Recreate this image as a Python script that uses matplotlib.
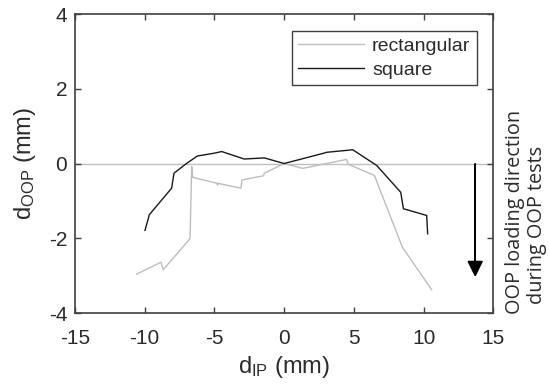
import numpy as np
import matplotlib
matplotlib.use("Agg")
import matplotlib.pyplot as plt

plt.rcParams['font.family'] = ['Liberation Sans', 'DejaVu Sans']
plt.rcParams['mathtext.fontset'] = 'custom'
plt.rcParams['mathtext.rm'] = 'Liberation Sans'
plt.rcParams['mathtext.it'] = 'Liberation Sans'
plt.rcParams['axes.unicode_minus'] = False

# In-plane vs out-of-plane displacement (mm)
rect_ip = [-10.58, -8.83, -8.67, -6.75, -6.63, -6.56, -4.80, -4.78, -4.76, -3.10, -3.02,
           -1.49, -1.42, 0.0, 1.33, 4.48, 4.60, 6.47, 8.48, 10.58]
rect_oop = [-2.96, -2.64, -2.84, -2.01, -0.08, -0.37, -0.53, -0.58, -0.53, -0.66, -0.44,
            -0.33, -0.26, 0.0, -0.13, 0.11, -0.02, -0.32, -2.24, -3.38]

sq_ip = [-9.98, -9.67, -8.07, -7.90, -7.04, -6.23, -4.96, -4.48, -2.86, -1.42, 0.0,
         2.88, 3.05, 4.72, 4.91, 6.63, 8.36, 8.55, 10.22, 10.29]
sq_oop = [-1.79, -1.37, -0.66, -0.26, -0.01, 0.20, 0.28, 0.32, 0.12, 0.15, 0.0,
          0.28, 0.30, 0.36, 0.37, -0.05, -0.77, -1.21, -1.39, -1.88]

# Loading direction arrow (x position, length)
arrow_x = 13.7
arrow_len = -3.0

axis_color = '#404040'
text_color = '#2b2b2b'

fig = plt.figure(figsize=(5.49, 3.85), dpi=100)
ax = fig.add_axes([0.1366, 0.187, 0.762, 0.7766])

ax.axhline(0, color='#bfbfbf', lw=1.0, zorder=1)
ax.plot(rect_ip, rect_oop, color='#bdbdbd', lw=1.0, label='rectangular', zorder=2)
ax.plot(sq_ip, sq_oop, color='#1a1a1a', lw=1.0, label='square', zorder=3)

ax.arrow(arrow_x, 0, 0, arrow_len, head_width=1.0, head_length=0.38,
         length_includes_head=True, fc='black', ec='black', lw=1.0, zorder=4)

ax.set_xlim(-15, 15)
ax.set_ylim(-4, 4)
ax.set_xticks(np.arange(-15, 16, 5))
ax.set_yticks(np.arange(-4, 5, 2))
ax.tick_params(direction='in', length=4, width=1, colors=axis_color,
               labelcolor=text_color, labelsize=15, top=True, right=True)
ax.tick_params(axis='x', pad=11.5)
ax.tick_params(axis='y', pad=5.5)
for s in ax.spines.values():
    s.set_color(axis_color)
    s.set_linewidth(1.2)

ax.set_xlabel(r'd$_{\mathrm{IP}}$ (mm)', fontsize=17, color=text_color, labelpad=4)
ax.set_ylabel(r'd$_{\mathrm{OOP}}$ (mm)', fontsize=17, color=text_color, labelpad=8)

leg = ax.legend(loc='upper right', bbox_to_anchor=(0.960, 0.944), borderaxespad=0,
                fancybox=False, edgecolor=axis_color, fontsize=14, handlelength=3.4,
                labelspacing=0.35, borderpad=0.32, handletextpad=0.4, framealpha=1)
leg.get_frame().set_linewidth(1.0)
for t in leg.get_texts():
    t.set_color(text_color)

# Side note about the loading direction
fig.text(0.947, 0.4506, 'OOP loading direction', rotation=90, rotation_mode='anchor',
         ha='center', va='baseline', fontsize=14.3, family='Open Sans', color=text_color)
fig.text(0.9867, 0.4156, 'during OOP tests', rotation=90, rotation_mode='anchor',
         ha='center', va='baseline', fontsize=14.3, family='Open Sans', color=text_color)

fig.savefig('out.png', dpi=100)
